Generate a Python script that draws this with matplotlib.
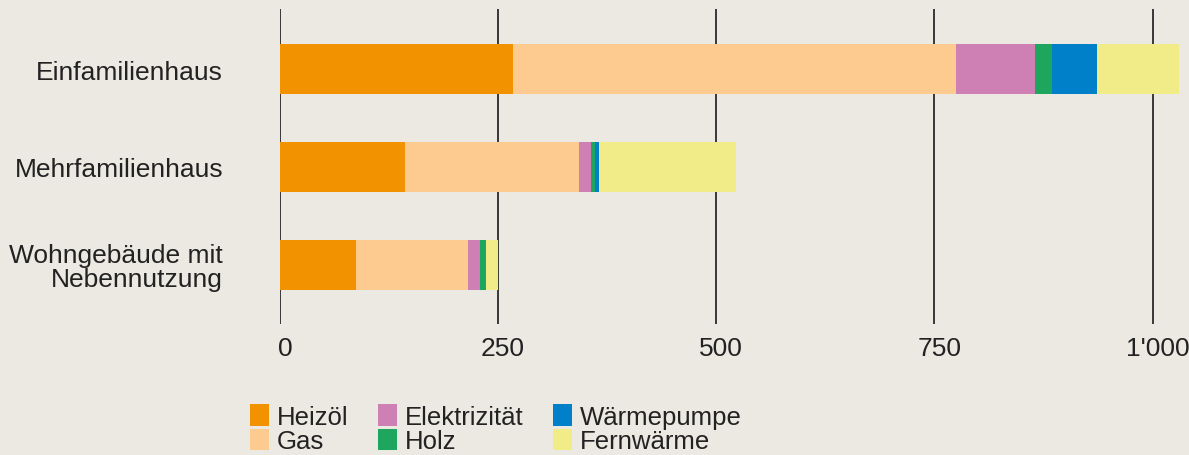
import matplotlib.pyplot as plt
from matplotlib.transforms import ScaledTranslation

# Gebäudekategorien und Anteile je Energieträger
categories = ["Einfamilienhaus", "Mehrfamilienhaus", "Wohngebäude mit\nNebennutzung"]
energy_labels = ["Heizöl", "Gas", "Elektrizität", "Holz", "Wärmepumpe", "Fernwärme"]

heizoel = [267, 143, 87]
gas = [508, 200, 128]
elektrizitaet = [90, 13, 14]
holz = [20, 5, 7]
waermepumpe = [51, 5, 0]
fernwaerme = [94, 157, 14]

x_ticks = [0, 250, 500, 750, 1000]
x_tick_labels = ["0", "250", "500", "750", "1'000"]

colors = ["#F39200", "#FDCA8F", "#CE80B4", "#1FA65E", "#0080C9", "#F1EC87"]
BG = "#ECE9E3"

plt.rcParams['font.family'] = ['Liberation Sans', 'DejaVu Sans']

fig = plt.figure(figsize=(11.89, 4.56), dpi=100, facecolor=BG)
ax = fig.add_axes([280 / 1189, 131 / 456, 909 / 1189, 315 / 456])
ax.set_facecolor(BG)

series = [heizoel, gas, elektrizitaet, holz, waermepumpe, fernwaerme]
ypos = list(range(len(categories)))
left = [0] * len(categories)
for vals, col, lab in zip(series, colors, energy_labels):
    ax.barh(ypos, vals, left=left, height=0.51, color=col, label=lab, zorder=3)
    left = [l + v for l, v in zip(left, vals)]

# vertikale Rasterlinien
for t in x_ticks:
    ax.axvline(t, color="#2a2a2a", linewidth=1.3, zorder=1)

ax.set_xlim(0, 909 / 0.8725)
ax.set_ylim(2.603, -0.613)

ax.set_yticks(ypos)
ax.set_yticklabels(categories, fontsize=19, color="#222222", linespacing=1.0)
ax.set_xticks(x_ticks)
ax.set_xticklabels(x_tick_labels, fontsize=19, color="#222222")
ax.tick_params(axis="y", length=0, pad=41)
ax.tick_params(axis="x", length=0, pad=9)
offset = ScaledTranslation(5 / 100, 0, fig.dpi_scale_trans)
for lbl in ax.get_xticklabels():
    lbl.set_transform(lbl.get_transform() + offset)

for s in ax.spines.values():
    s.set_visible(False)

leg = fig.legend(loc="lower left", bbox_to_anchor=(242 / 1189, -6 / 456), ncol=3,
                 frameon=False, fontsize=18.5, handlelength=0.74, handleheight=0.9,
                 handletextpad=0.33, columnspacing=1.12, labelspacing=0.0,
                 borderaxespad=0, borderpad=0.3)
for t in leg.get_texts():
    t.set_color("#222222")

fig.savefig("out.png", dpi=100, facecolor=BG)
